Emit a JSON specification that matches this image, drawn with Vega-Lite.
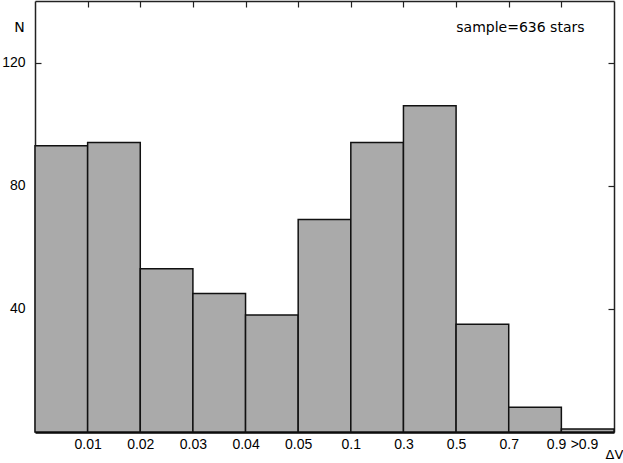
{
  "$schema": "https://vega.github.io/schema/vega-lite/v6.json",
  "width": 579,
  "height": 431,
  "autosize": "none",
  "padding": {"left": 35, "top": 1, "right": 9, "bottom": 31},
  "background": "white",
  "config": {
    "view": {"stroke": null},
    "font": "Liberation Sans",
    "axis": {"labelFont": "Liberation Sans", "titleFont": "DejaVu Sans", "labelColor": "black", "titleColor": "black", "domainColor": "#222222", "tickColor": "#222222", "grid": false}
  },
  "layer": [
    {
      "data": {"values": [
        {"start": 0, "end": 1, "bin": "<0.01", "N": 93},
        {"start": 1, "end": 2, "bin": "0.01-0.02", "N": 94},
        {"start": 2, "end": 3, "bin": "0.02-0.03", "N": 53},
        {"start": 3, "end": 4, "bin": "0.03-0.04", "N": 45},
        {"start": 4, "end": 5, "bin": "0.04-0.05", "N": 38},
        {"start": 5, "end": 6, "bin": "0.05-0.1", "N": 69},
        {"start": 6, "end": 7, "bin": "0.1-0.3", "N": 94},
        {"start": 7, "end": 8, "bin": "0.3-0.5", "N": 106},
        {"start": 8, "end": 9, "bin": "0.5-0.7", "N": 35},
        {"start": 9, "end": 10, "bin": "0.7-0.9", "N": 8},
        {"start": 10, "end": 11, "bin": ">0.9", "N": 1}
      ]},
      "mark": {"type": "bar", "fill": "#aaaaaa", "stroke": "#111111", "strokeWidth": 1.5, "opacity": 1},
      "encoding": {
        "x": {
          "field": "start", "type": "quantitative",
          "scale": {"domain": [0, 11], "nice": false, "zero": false},
          "axis": {
            "orient": "bottom",
            "values": [1, 2, 3, 4, 5, 6, 7, 8, 9, 9.9, 10.43],
            "labelExpr": "datum.value > 10.2 ? '>0.9' : datum.value > 9.5 ? '0.9' : ['', '0.01', '0.02', '0.03', '0.04', '0.05', '0.1', '0.3', '0.5', '0.7'][datum.value]",
            "ticks": false,
            "labelPadding": 5,
            "labelFontSize": 14,
            "labelFlush": false,
            "labelOverlap": false,
            "domainWidth": 2.5,
            "domainColor": "black",
            "title": "ΔV",
            "titleFontSize": 13,
            "titleFontWeight": "normal",
            "titleX": 579,
            "titleY": 22,
            "titleAlign": "center",
            "titleBaseline": "middle",
            "titleAnchor": null
          }
        },
        "x2": {"field": "end"},
        "y": {
          "field": "N", "type": "quantitative",
          "scale": {"domain": [0, 140], "nice": false, "zero": true},
          "axis": {
            "orient": "left",
            "values": [40, 80, 120],
            "tickSize": -6,
            "tickWidth": 1.2,
            "labelPadding": 16,
            "labelFontSize": 14,
            "domainWidth": 1.5,
            "title": "N",
            "titleAngle": 0,
            "titleFontSize": 14,
            "titleFontWeight": "normal",
            "titleX": -16,
            "titleY": 26,
            "titleAlign": "center",
            "titleBaseline": "middle"
          }
        },
        "y2": {"datum": 0}
      }
    },
    {
      "data": {"values": [{"note": "sample=636 stars"}]},
      "mark": {"type": "text", "align": "right", "baseline": "middle", "fontSize": 14, "font": "DejaVu Sans", "color": "black"},
      "encoding": {
        "text": {"field": "note"},
        "x": {
          "datum": 10.44, "type": "quantitative",
          "axis": {"orient": "top", "values": [1, 2, 3, 4, 5, 6, 7, 8, 9, 10], "labels": false, "tickSize": -6, "tickWidth": 1.2, "domainWidth": 1.5, "title": null}
        },
        "y": {
          "datum": 131.2, "type": "quantitative",
          "axis": {"orient": "right", "values": [40, 80, 120], "labels": false, "tickSize": -6, "tickWidth": 1.2, "domainWidth": 1.5, "title": null}
        }
      }
    }
  ],
  "resolve": {"axis": {"x": "independent", "y": "independent"}}
}
